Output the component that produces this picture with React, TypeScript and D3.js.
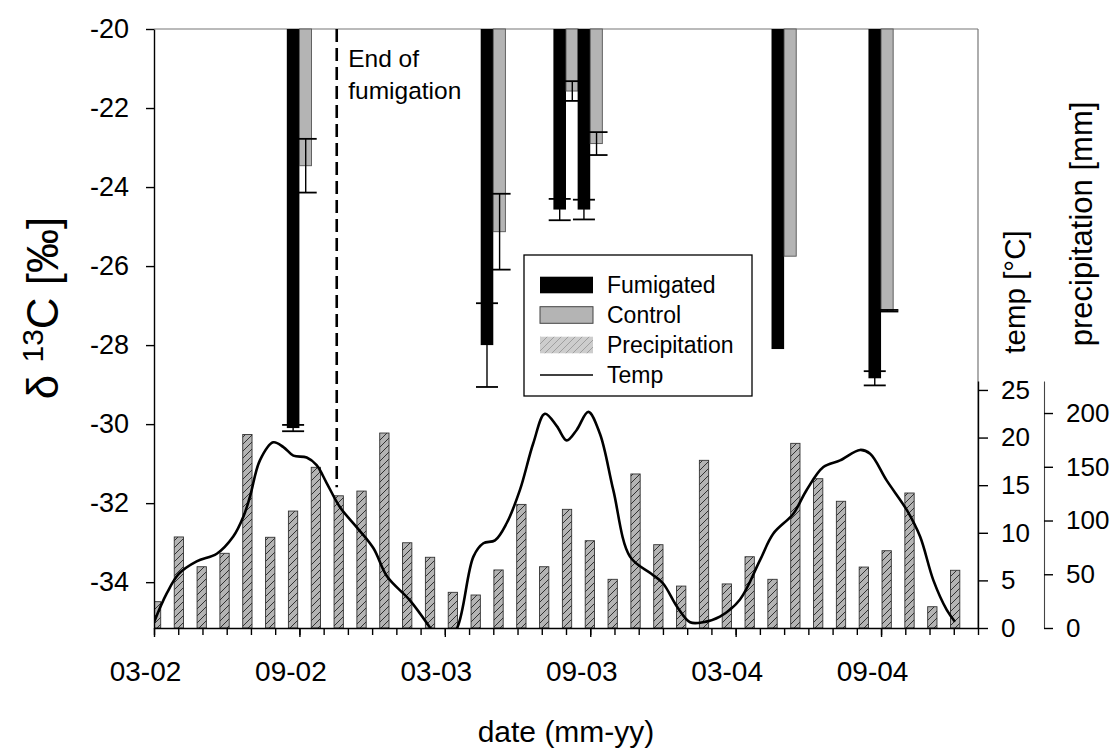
import React, { useRef, useEffect } from "react";
import * as d3 from "d3";

// sampling dates (mm-yy) and delta 13C means / errors
const sampleDates = ["09-02", "05-03", "08-03", "09-03", "05-04", "09-04"];
const fumigated = [-30.1, -28.0, -24.57, -24.57, -28.1, -28.84];
const fumigatedErr = [0.08, 1.06, 0.27, 0.25, 0, 0.18];
const control = [-23.46, -25.13, -21.57, -22.9, -25.75, -27.13];
const controlErr = [0.68, 0.96, 0.25, 0.29, 0, 0.02];

// monthly precipitation (mm), one bar per month
const precipitation = [
  24.5, 84.7, 57, 69.5, 180, 84.4, 108.8, 149.5, 123, 127.4, 181.4, 79.3,
  65.8, 33.2, 30.7, 54, 115, 57, 110.4, 81.2, 45.3, 143.3, 77.5, 39,
  156, 41, 66.3, 45.3, 171.8, 138.9, 117.9, 56.7, 71.9, 125.6, 19.8, 53.7,
];

// temperature curve, months after 03-02
const tempMonths = [
  0, 0.52, 1.03, 1.76, 2.59, 3.27, 3.69, 3.96, 4.37, 4.92, 5.34, 5.75, 6.3, 6.71,
  7.13, 7.67, 8.36, 9.05, 9.62, 10.56, 11.4, 11.92, 12.51, 13.18, 13.59, 14.07,
  14.55, 15.1, 15.65, 16.13, 16.62, 17.03, 17.44, 17.92, 18.4, 18.95, 19.64,
  20.52, 21.0, 21.59, 22.12, 22.65, 23.35, 24.18, 25.0, 25.55, 26.38, 26.93,
  27.62, 28.31, 29.13, 29.55, 30.23, 31.06, 31.61, 32.16, 32.71, 33.05,
];
const tempValues = [
  0.6, 3.6, 5.7, 7.0, 7.8, 9.6, 11.7, 13.8, 17.6, 19.5, 19.0, 18.1, 17.9, 17.1,
  15.2, 12.7, 10.6, 8.4, 5.4, 2.9, 0, -2, 0, 7.5, 8.9, 9.2,
  11.0, 14.5, 19.4, 22.5, 21.2, 19.7, 20.8, 22.7, 20.4, 14.5, 7.5,
  5.7, 4.7, 2.2, 0.6, 0.6, 1.2, 3.0, 7.1, 9.9, 12.0, 14.5,
  16.9, 17.6, 18.7, 18.3, 15.5, 12.4, 9.6, 5.0, 1.9, 0.66,
];

const xTickLabels = ["03-02", "09-02", "03-03", "09-03", "03-04", "09-04"];
const leftTicks = [-20, -22, -24, -26, -28, -30, -32, -34];
const tempTicks = [0, 5, 10, 15, 20, 25];
const precipTicks = [0, 50, 100, 150, 200];
const fumigationEnd = 7.54; // mid Oct 2002

const FONT = "'Liberation Sans', Arial, sans-serif";

const monthIndex = (s: string) => {
  const [mm, yy] = s.split("-").map(Number);
  return (yy - 2) * 12 + (mm - 3);
};

export default function App() {
  const svgRef = useRef<SVGSVGElement>(null);

  useEffect(() => {
    const svg = d3.select(svgRef.current);
    svg.selectAll("*").remove();

    const margin = { top: 29, left: 154 };
    const width = 824;
    const height = 599;

    const defs = svg.append("defs");
    const hatch = defs.append("pattern").attr("id", "hatch")
      .attr("patternUnits", "userSpaceOnUse").attr("width", 7).attr("height", 7);
    hatch.append("rect").attr("width", 7).attr("height", 7).attr("fill", "#b4b4b4");
    hatch.append("path").attr("d", "M0,7 L7,0 M-1,1 L1,-1 M6,8 L8,6")
      .attr("stroke", "#222").attr("stroke-width", 0.9);
    const hatchLight = defs.append("pattern").attr("id", "hatchLight")
      .attr("patternUnits", "userSpaceOnUse").attr("width", 7).attr("height", 7);
    hatchLight.append("rect").attr("width", 7).attr("height", 7).attr("fill", "#cdcdcd");
    hatchLight.append("path").attr("d", "M0,7 L7,0 M-1,1 L1,-1 M6,8 L8,6")
      .attr("stroke", "#9a9a9a").attr("stroke-width", 0.9);
    defs.append("clipPath").attr("id", "plotClip")
      .append("rect").attr("width", width).attr("height", height);

    const g = svg.append("g").attr("transform", `translate(${margin.left},${margin.top})`);

    const x = d3.scaleLinear().domain([0, 34]).range([0, width]);
    const xPrecip = d3.scaleLinear().domain([-0.09, 36]).range([0, width]);
    const y = d3.scaleLinear().domain([-35.16, -20]).range([height, 0]);
    const yTemp = d3.scaleLinear().domain([0, 25.94]).range([height, height - 247]);
    const yPrecip = d3.scaleLinear().domain([0, 229.8]).range([height, height - 247]);

    // frame
    g.append("line").attr("x1", 0).attr("x2", width).attr("y1", 0).attr("y2", 0)
      .attr("stroke", "#777").attr("stroke-width", 1.2);
    g.append("line").attr("x1", width).attr("x2", width).attr("y1", 0).attr("y2", height)
      .attr("stroke", "#777").attr("stroke-width", 1.2);

    // precipitation bars
    const pw = 9.3;
    g.append("g").attr("clip-path", "url(#plotClip)")
      .selectAll("rect").data(precipitation).join("rect")
      .attr("x", (d, i) => xPrecip(i) - pw / 2)
      .attr("y", d => yPrecip(d))
      .attr("width", pw)
      .attr("height", d => height - yPrecip(d))
      .attr("fill", "url(#hatch)")
      .attr("stroke", "#333").attr("stroke-width", 0.9);

    // temperature line
    const line = d3.line<number>()
      .x((d, i) => x(tempMonths[i]))
      .y(d => yTemp(d))
      .curve(d3.curveCatmullRom.alpha(0.5));
    g.append("path").datum(tempValues).attr("clip-path", "url(#plotClip)")
      .attr("d", line).attr("fill", "none").attr("stroke", "#000").attr("stroke-width", 2.6);

    // end of fumigation
    g.append("line")
      .attr("x1", x(fumigationEnd)).attr("x2", x(fumigationEnd))
      .attr("y1", y(-20)).attr("y2", y(-31.6))
      .attr("stroke", "#000").attr("stroke-width", 2.6).attr("stroke-dasharray", "13,6");
    const ann = g.append("text").attr("font-family", FONT).attr("font-size", 24.5).attr("fill", "#000");
    ann.append("tspan").attr("x", x(fumigationEnd) + 11.5).attr("y", 38).text("End of");
    ann.append("tspan").attr("x", x(fumigationEnd) + 11.5).attr("y", 70).text("fumigation");

    // delta 13C bars
    const bw = 12.6;
    const groups = sampleDates.map((d, i) => ({
      m: monthIndex(d), f: fumigated[i], fe: fumigatedErr[i], c: control[i], ce: controlErr[i],
    }));
    const cap = 11;
    const bars = g.append("g");
    groups.forEach(d => {
      const cx = x(d.m);
      bars.append("rect").attr("x", cx - bw).attr("y", y(-20)).attr("width", bw)
        .attr("height", y(d.f) - y(-20)).attr("fill", "#000");
      bars.append("rect").attr("x", cx).attr("y", y(-20)).attr("width", bw - 0.5)
        .attr("height", y(d.c) - y(-20)).attr("fill", "#b4b4b4")
        .attr("stroke", "#555").attr("stroke-width", 0.9);
      const err = [
        { c: cx - bw / 2, v: d.f, e: d.fe },
        { c: cx + bw / 2, v: d.c, e: d.ce },
      ];
      err.filter(e => e.e > 0).forEach(e => {
        const eg = bars.append("g").attr("stroke", "#000").attr("stroke-width", 1.4);
        eg.append("line").attr("x1", e.c).attr("x2", e.c)
          .attr("y1", y(e.v + e.e)).attr("y2", y(e.v - e.e));
        [e.v + e.e, e.v - e.e].forEach(v => {
          eg.append("line").attr("x1", e.c - cap).attr("x2", e.c + cap)
            .attr("y1", y(v)).attr("y2", y(v)).attr("stroke-width", 1.8);
        });
      });
    });

    const styleAxis = (sel: any, size: number) => {
      sel.selectAll("path, line").attr("stroke", "#000").attr("stroke-width", 1.4);
      sel.selectAll("text").attr("font-family", FONT).attr("font-size", size).attr("fill", "#000");
    };

    // left axis
    const la = g.append("g").call(
      d3.axisLeft(y).tickValues(leftTicks).tickSize(8).tickSizeOuter(0).tickPadding(17)
        .tickFormat(d => String(d))
    );
    styleAxis(la, 27);

    // x axis: minor and labeled ticks
    const xa = g.append("g").attr("transform", `translate(0,${height})`).call(
      d3.axisBottom(x).tickValues(d3.range(0, 35)).tickSize(7).tickSizeOuter(0).tickFormat(() => "")
    );
    styleAxis(xa, 25);
    const xl = g.append("g").attr("transform", `translate(0,${height})`).call(
      d3.axisBottom(x).tickValues(xTickLabels.map(monthIndex)).tickSize(9).tickSizeOuter(0)
        .tickPadding(24).tickFormat((d, i) => xTickLabels[i])
    );
    styleAxis(xl, 28);
    xl.select(".domain").remove();
    xl.selectAll("text").attr("x", -9);

    // temperature axis
    const ta = g.append("g").attr("transform", `translate(${width},0)`).call(
      d3.axisRight(yTemp).tickValues(tempTicks).tickSize(10).tickSizeOuter(0).tickPadding(13)
    );
    styleAxis(ta, 26);

    // precipitation axis
    const pa = g.append("g").attr("transform", `translate(${width + 66},0)`).call(
      d3.axisRight(yPrecip).tickValues(precipTicks).tickSize(9).tickSizeOuter(0).tickPadding(13)
    );
    styleAxis(pa, 26);
    pa.select(".domain").attr("stroke", "#444").attr("stroke-width", 1.1);

    // axis titles
    const lt = svg.append("text").attr("font-family", FONT).attr("font-size", 44)
      .attr("text-anchor", "middle").attr("transform", "translate(58,308) rotate(-90)");
    lt.append("tspan").text("δ ");
    lt.append("tspan").attr("font-size", 30).attr("dy", -15).text("13");
    lt.append("tspan").attr("dy", 15).text("C [‰]");

    svg.append("text").attr("font-family", FONT).attr("font-size", 29.5)
      .attr("text-anchor", "middle").attr("transform", "translate(1025,292) rotate(-90)")
      .text("temp [°C]");
    svg.append("text").attr("font-family", FONT).attr("font-size", 31)
      .attr("text-anchor", "middle").attr("transform", "translate(1092,224) rotate(-90)")
      .text("precipitation [mm]");
    svg.append("text").attr("font-family", FONT).attr("font-size", 30)
      .attr("text-anchor", "middle").attr("x", margin.left + width / 2).attr("y", 742)
      .text("date (mm-yy)");

    // legend
    const lg = svg.append("g").attr("transform", "translate(524,255)");
    lg.append("rect").attr("width", 228).attr("height", 141)
      .attr("fill", "#fff").attr("stroke", "#000").attr("stroke-width", 1.3);
    const items = [
      { label: "Fumigated", type: "black" },
      { label: "Control", type: "gray" },
      { label: "Precipitation", type: "hatch" },
      { label: "Temp", type: "line" },
    ];
    items.forEach((it, i) => {
      const cy = 30 + i * 30;
      if (it.type === "line") {
        lg.append("line").attr("x1", 16).attr("x2", 69).attr("y1", cy).attr("y2", cy)
          .attr("stroke", "#000").attr("stroke-width", 1.5);
      } else {
        lg.append("rect").attr("x", 16).attr("y", cy - 8.3).attr("width", 53).attr("height", 16.6)
          .attr("fill", it.type === "black" ? "#000" : it.type === "gray" ? "#b4b4b4" : "url(#hatchLight)")
          .attr("stroke", it.type === "gray" ? "#444" : "none").attr("stroke-width", 1);
      }
      lg.append("text").attr("x", 83).attr("y", cy + 8).attr("font-family", FONT)
        .attr("font-size", 23).text(it.label);
    });
  }, []);

  return (
    <svg
      ref={svgRef}
      width={1114}
      height={751}
      style={{ position: "absolute", left: 0, top: 0, background: "#fff" }}
    />
  );
}
